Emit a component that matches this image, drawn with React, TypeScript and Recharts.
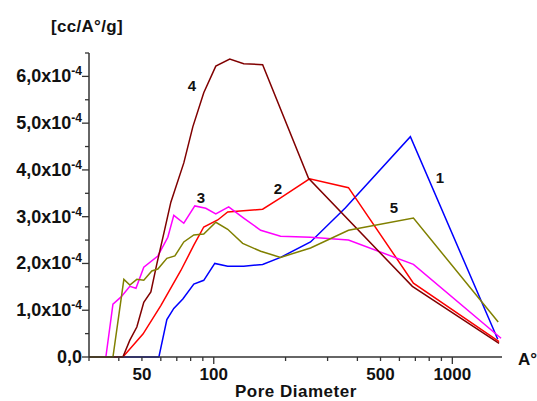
import React from 'react';
import { LineChart, Line, XAxis, YAxis } from 'recharts';

// pore diameter (A°) and dV/dD (units of 1e-4 cc/A°/g) for each sample
const pd1 = [30, 58.9, 63.6, 68.0, 74.2, 82.5, 90.8, 101, 114.4, 133.5, 160.3, 190.6, 254.5, 356.6, 667, 1550];
const dv1 = [0, 0, 0.8, 1.04, 1.24, 1.56, 1.64, 2.0, 1.94, 1.94, 1.98, 2.13, 2.46, 3.19, 4.71, 0.38];

const pd2 = [30, 41.6, 50.5, 60.0, 72.8, 82.5, 90.8, 103.9, 114.4, 160.3, 190.6, 252, 367, 687, 1570];
const dv2 = [0, 0, 0.49, 1.1, 1.85, 2.39, 2.78, 2.93, 3.1, 3.16, 3.4, 3.81, 3.62, 1.58, 0.33];

const pd3 = [30, 35.3, 37.8, 40.8, 44.5, 47.2, 50.9, 58.3, 64.2, 68.0, 74.9, 83.3, 92.6, 102, 115.5, 133.5, 157.3, 190.6, 254.5, 367, 687, 1600];
const dv3 = [0, 0, 1.13, 1.28, 1.51, 1.47, 1.92, 2.16, 2.56, 3.03, 2.86, 3.23, 3.18, 3.06, 3.21, 2.97, 2.71, 2.58, 2.56, 2.5, 1.98, 0.4];

const pd4 = [30, 41.6, 44.5, 47.6, 50.9, 54.5, 57.8, 61.8, 66.1, 74.9, 81.7, 90.8, 102, 116.7, 133.5, 160.3, 249.6, 680, 1570];
const dv4 = [0, 0, 0.36, 0.64, 1.17, 1.39, 2.0, 2.65, 3.31, 4.15, 4.92, 5.65, 6.22, 6.37, 6.27, 6.25, 3.82, 1.51, 0.29];

const pd5 = [30, 37.8, 42.0, 44.5, 47.6, 50.9, 55.0, 58.3, 63.6, 68.7, 74.9, 82.5, 90.8, 102, 114.4, 132.2, 157.3, 190.6, 254.5, 367, 687, 1557];
const dv5 = [0, 0, 1.66, 1.54, 1.66, 1.64, 1.84, 1.88, 2.11, 2.16, 2.46, 2.61, 2.63, 2.88, 2.73, 2.43, 2.26, 2.13, 2.33, 2.71, 2.97, 0.75];

const xTicks = [30, 40, 50, 60, 70, 80, 90, 100, 200, 300, 400, 500, 600, 700, 800, 900, 1000];
const xLabels = [50, 100, 500, 1000];
const yTicks = [0, 0.5, 1, 1.5, 2, 2.5, 3, 3.5, 4, 4.5, 5, 5.5, 6, 6.5];

const FONT = "Arial, 'Liberation Sans', sans-serif";
const AXIS = '#333';

const toRows = (xs: number[], ys: number[]) => xs.map((x, i) => ({ x, y: ys[i] }));

const series = [
  { name: '1', data: toRows(pd1, dv1), color: '#0000ff' },
  { name: '2', data: toRows(pd2, dv2), color: '#ff0000' },
  { name: '3', data: toRows(pd3, dv3), color: '#ff00ff' },
  { name: '4', data: toRows(pd4, dv4), color: '#800000' },
  { name: '5', data: toRows(pd5, dv5), color: '#808000' },
];

// curve numbers placed next to their lines
const curveLabels = [
  { text: '4', x: 192, y: 91 },
  { text: '3', x: 201, y: 203 },
  { text: '2', x: 278, y: 194 },
  { text: '1', x: 440, y: 183 },
  { text: '5', x: 394, y: 213 },
];

function YTick(props: any) {
  const { x, y, payload } = props;
  const v = payload.value;
  const major = Math.abs(v - Math.round(v)) < 1e-6;
  return (
    <g>
      <line x1={x - (major ? 7 : 4)} x2={x} y1={y} y2={y} stroke={AXIS} strokeWidth={1.3} />
      {major && (
        <text x={x - 7} y={y + 6} textAnchor="end" fontFamily={FONT} fontWeight="bold" fontSize={18} fill="#111">
          {v.toFixed(1).replace('.', ',')}
          {v !== 0 && 'x10'}
          {v !== 0 && (
            <tspan dy={-7} fontSize={12}>-4</tspan>
          )}
        </text>
      )}
    </g>
  );
}

function XTick(props: any) {
  const { x, y, payload } = props;
  const v = payload.value;
  const decade = v === 100 || v === 1000;
  return (
    <g>
      <line x1={x} x2={x} y1={y} y2={y + (decade ? 7 : 4)} stroke={AXIS} strokeWidth={1.3} />
      {xLabels.includes(v) && (
        <text x={x} y={y + 23} textAnchor="middle" fontFamily={FONT} fontWeight="bold" fontSize={17} fill="#111">
          {v}
        </text>
      )}
    </g>
  );
}

export default function App() {
  return (
    <div style={{ position: 'absolute', left: 0, top: 0, width: 537, height: 401, background: '#fff' }}>
      <LineChart width={537} height={401} margin={{ top: 53, right: 35, bottom: 0, left: 0 }}>
        <XAxis
          dataKey="x"
          type="number"
          scale="log"
          domain={[30, 1615]}
          allowDataOverflow
          ticks={xTicks}
          interval={0}
          height={44}
          tickSize={0}
          tickMargin={0}
          tick={<XTick />}
          axisLine={{ stroke: AXIS, strokeWidth: 1.5 }}
          tickLine={false}
        />
        <YAxis
          type="number"
          domain={[0, 6.5]}
          ticks={yTicks}
          interval={0}
          width={89}
          tickSize={0}
          tickMargin={0}
          tick={<YTick />}
          axisLine={{ stroke: AXIS, strokeWidth: 1.5 }}
          tickLine={false}
        />
        {series.map((s) => (
          <Line
            key={s.name}
            data={s.data}
            dataKey="y"
            type="linear"
            stroke={s.color}
            strokeWidth={1.5}
            dot={false}
            isAnimationActive={false}
          />
        ))}
      </LineChart>
      <svg width={537} height={401} style={{ position: 'absolute', left: 0, top: 0, pointerEvents: 'none' }}>
        <g fontFamily={FONT} fontWeight="bold" fill="#111">
          <text x={51} y={32} fontSize={17} letterSpacing={0.3}>[cc/A°/g]</text>
          <text x={235} y={397} fontSize={17} letterSpacing={0.5}>Pore Diameter</text>
          <text x={518} y={365} fontSize={17}>A°</text>
          {curveLabels.map((l) => (
            <text key={l.text} x={l.x} y={l.y} fontSize={15} textAnchor="middle">{l.text}</text>
          ))}
        </g>
      </svg>
    </div>
  );
}
